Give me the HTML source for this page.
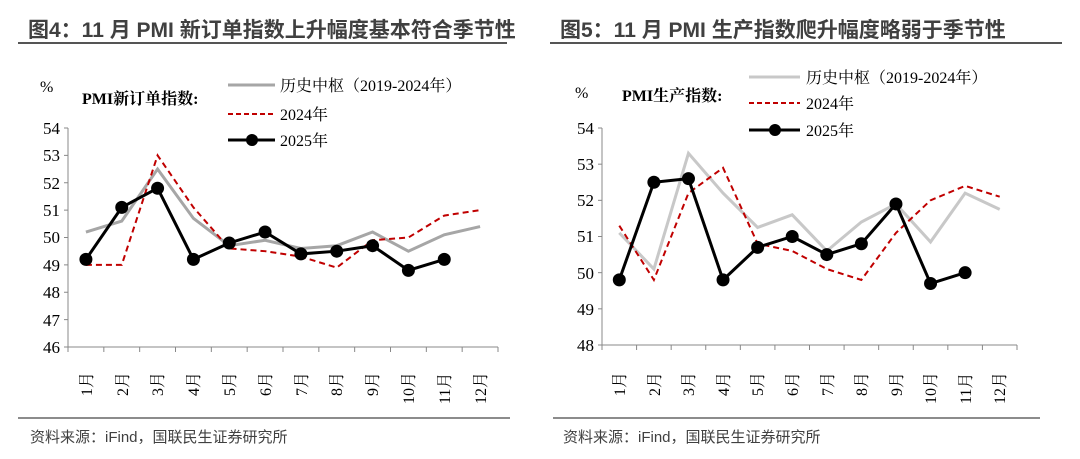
<!DOCTYPE html>
<html><head><meta charset="utf-8"><style>
body{margin:0;background:#fff;width:1080px;height:459px;overflow:hidden}
svg{display:block}
.t{font-family:"Liberation Sans","Noto Sans CJK SC",sans-serif;font-weight:bold;font-size:21px;fill:#404040}
.s{font-family:"Liberation Serif","Noto Serif CJK SC",serif;font-size:16px;fill:#000}
.k{font-family:"Liberation Serif","Noto Serif CJK SC",serif;font-size:17px;fill:#000}
.f{font-family:"Liberation Sans","Noto Sans CJK SC",sans-serif;font-size:15px;fill:#404040}
</style></head><body>
<svg id="c" width="1080" height="459" xmlns="http://www.w3.org/2000/svg">
<text class="t" x="28" y="37">图4：11 月 PMI 新订单指数上升幅度基本符合季节性</text>
<line x1="18" y1="43" x2="507" y2="43" stroke="#555" stroke-width="2"/>
<text class="t" x="560" y="37">图5：11 月 PMI 生产指数爬升幅度略弱于季节性</text>
<line x1="550" y1="43" x2="1062" y2="43" stroke="#555" stroke-width="2"/>
<line x1="18" y1="418" x2="510" y2="418" stroke="#666" stroke-width="1.5"/>
<line x1="553" y1="418" x2="1040" y2="418" stroke="#666" stroke-width="1.5"/>
<text class="f" x="30" y="442">资料来源：iFind，国联民生证券研究所</text>
<text class="f" x="563" y="442">资料来源：iFind，国联民生证券研究所</text>

<text class="s" x="40" y="92">%</text>
<text class="s" x="82" y="104" font-weight="bold">PMI新订单指数:</text>
<line x1="228" y1="85" x2="275" y2="85" stroke="#a6a6a6" stroke-width="3"/>
<text class="s" x="280" y="91">历史中枢（2019-2024年）</text>
<line x1="228" y1="114" x2="275" y2="114" stroke="#c00000" stroke-width="2" stroke-dasharray="5,3"/>
<text class="s" x="280" y="120">2024年</text>
<line x1="228" y1="140" x2="275" y2="140" stroke="#000" stroke-width="3"/>
<circle cx="252" cy="140" r="6"/>
<text class="s" x="280" y="146">2025年</text>

<text class="s" x="575" y="98">%</text>
<text class="s" x="622" y="101" font-weight="bold">PMI生产指数:</text>
<line x1="749" y1="77" x2="800" y2="77" stroke="#c8c8c8" stroke-width="3"/>
<text class="s" x="806" y="83">历史中枢（2019-2024年）</text>
<line x1="749" y1="103" x2="800" y2="103" stroke="#c00000" stroke-width="2" stroke-dasharray="5,3"/>
<text class="s" x="806" y="109">2024年</text>
<line x1="749" y1="130" x2="800" y2="130" stroke="#000" stroke-width="3"/>
<circle cx="775" cy="130" r="6"/>
<text class="s" x="806" y="136">2025年</text>

<g class="k" text-anchor="end">
<text x="60" y="134">54</text><text x="60" y="161">53</text><text x="60" y="189">52</text><text x="60" y="216">51</text><text x="60" y="243">50</text><text x="60" y="271">49</text><text x="60" y="298">48</text><text x="60" y="326">47</text><text x="60" y="353">46</text>
<text x="594" y="134">54</text><text x="594" y="170">53</text><text x="594" y="206">52</text><text x="594" y="242">51</text><text x="594" y="279">50</text><text x="594" y="315">49</text><text x="594" y="351">48</text>
</g>
<g class="s">
<text transform="translate(92,396) rotate(-90)">1月</text>
<text transform="translate(128,396) rotate(-90)">2月</text>
<text transform="translate(163,396) rotate(-90)">3月</text>
<text transform="translate(199,396) rotate(-90)">4月</text>
<text transform="translate(235,396) rotate(-90)">5月</text>
<text transform="translate(271,396) rotate(-90)">6月</text>
<text transform="translate(307,396) rotate(-90)">7月</text>
<text transform="translate(342,396) rotate(-90)">8月</text>
<text transform="translate(378,396) rotate(-90)">9月</text>
<text transform="translate(414,404) rotate(-90)">10月</text>
<text transform="translate(450,404) rotate(-90)">11月</text>
<text transform="translate(486,404) rotate(-90)">12月</text>
<text transform="translate(625,396) rotate(-90)">1月</text>
<text transform="translate(660,396) rotate(-90)">2月</text>
<text transform="translate(694,396) rotate(-90)">3月</text>
<text transform="translate(729,396) rotate(-90)">4月</text>
<text transform="translate(763,396) rotate(-90)">5月</text>
<text transform="translate(798,396) rotate(-90)">6月</text>
<text transform="translate(833,396) rotate(-90)">7月</text>
<text transform="translate(867,396) rotate(-90)">8月</text>
<text transform="translate(902,396) rotate(-90)">9月</text>
<text transform="translate(936,404) rotate(-90)">10月</text>
<text transform="translate(971,404) rotate(-90)">11月</text>
<text transform="translate(1005,404) rotate(-90)">12月</text>
</g>
<g id="plot"></g>
</svg>
<script>
var NS="http://www.w3.org/2000/svg",g=document.getElementById("plot");
function el(t,a){var e=document.createElementNS(NS,t);for(var k in a)e.setAttribute(k,a[k]);g.appendChild(e);return e;}
function chart(x0,xw,ytop,ybot,vmax,vmin,hist,hc,d24,d25){
 var cw=xw/12,ys=(ybot-ytop)/(vmax-vmin);
 function X(i){return x0+cw/2+cw*i} function Y(v){return ytop+(vmax-v)*ys}
 el("line",{x1:x0,y1:ytop,x2:x0,y2:ybot,stroke:"#888","stroke-width":1});
 el("line",{x1:x0,y1:ybot,x2:x0+xw,y2:ybot,stroke:"#888","stroke-width":1});
 for(var v=vmin;v<=vmax;v++)el("line",{x1:x0-4,y1:Y(v),x2:x0,y2:Y(v),stroke:"#888"});
 for(var i=0;i<=12;i++)el("line",{x1:x0+cw*i,y1:ybot,x2:x0+cw*i,y2:ybot+5,stroke:"#888"});
 function pts(d){return d.map(function(v,i){return X(i)+","+Y(v)}).join(" ")}
 el("polyline",{points:pts(hist),fill:"none",stroke:hc,"stroke-width":3});
 el("polyline",{points:pts(d24),fill:"none",stroke:"#c00000","stroke-width":2,"stroke-dasharray":"6,4"});
 el("polyline",{points:pts(d25),fill:"none",stroke:"#000","stroke-width":3});
 d25.forEach(function(v,i){el("circle",{cx:X(i),cy:Y(v),r:6.5,fill:"#000"})});
}
chart(68,430,128,347,54,46,
 [50.2,50.6,52.5,50.7,49.7,49.9,49.6,49.7,50.2,49.5,50.1,50.4],"#a6a6a6",
 [49,49,53,51.1,49.6,49.5,49.3,48.9,49.9,50.0,50.8,51.0],
 [49.2,51.1,51.8,49.2,49.8,50.2,49.4,49.5,49.7,48.8,49.2]);
chart(602,415,128,345,54,48,
 [51.1,50.1,53.3,52.2,51.25,51.6,50.6,51.4,51.9,50.85,52.2,51.75],"#c8c8c8",
 [51.3,49.8,52.2,52.9,50.8,50.6,50.1,49.8,51.1,52.0,52.4,52.1],
 [49.8,52.5,52.6,49.8,50.7,51.0,50.5,50.8,51.9,49.7,50.0]);
</script>
</body></html>
